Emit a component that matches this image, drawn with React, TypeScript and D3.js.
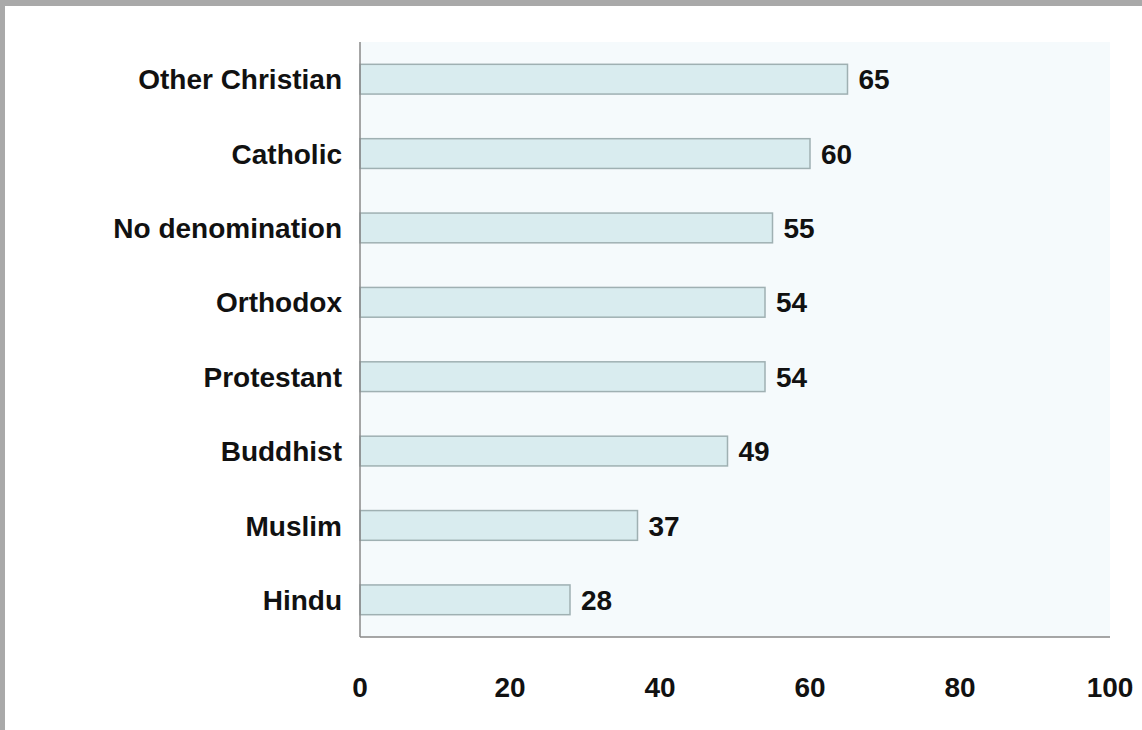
import React from "react";
import * as d3 from "d3";

const categories = ["Other Christian", "Catholic", "No denomination", "Orthodox", "Protestant", "Buddhist", "Muslim", "Hindu"];
const values = [65, 60, 55, 54, 54, 49, 37, 28];
const xTicks = [0, 20, 40, 60, 80, 100];

const W = 1142;
const H = 730;
const left = 360;
const right = 1110;
const top = 42;
const bottom = 637;

export default function App() {
  const x = d3.scaleLinear().domain([0, 100]).range([left, right]);
  const y = d3.scaleBand().domain(categories).range([top, bottom]).paddingInner(0.6).paddingOuter(0.3);
  const font = "'Liberation Sans', Arial, Helvetica, sans-serif";
  return (
    <svg width={W} height={H} style={{ position: "absolute", left: 0, top: 0, background: "#fff" }} fontFamily={font}>
      <rect x={0} y={0} width={W} height={6} fill="#a9a9a9" />
      <rect x={0} y={0} width={5} height={H} fill="#a9a9a9" />
      <rect x={left} y={top} width={right - left} height={bottom - top} fill="#f5fafc" />
      {categories.map((c, i) => (
        <g key={c}>
          <rect x={x(0)} y={y(c)!} width={x(values[i]) - x(0)} height={y.bandwidth()} fill="#d9ecef" stroke="#9fb0b2" strokeWidth={1.5} />
          <text x={left - 18} y={y(c)! + y.bandwidth() / 2} dy="0.36em" textAnchor="end" fontSize={28} fontWeight="bold" fill="#111">{c}</text>
          <text x={x(values[i]) + 11} y={y(c)! + y.bandwidth() / 2} dy="0.36em" fontSize={28} fontWeight="bold" fill="#111">{values[i]}</text>
        </g>
      ))}
      <line x1={left} x2={left} y1={top} y2={bottom} stroke="#888" strokeWidth={1.5} />
      <line x1={left} x2={right} y1={bottom} y2={bottom} stroke="#888" strokeWidth={1.5} />
      {xTicks.map((t) => (
        <text key={t} x={x(t)} y={697} textAnchor="middle" fontSize={28} fontWeight="bold" fill="#111">{t}</text>
      ))}
    </svg>
  );
}
